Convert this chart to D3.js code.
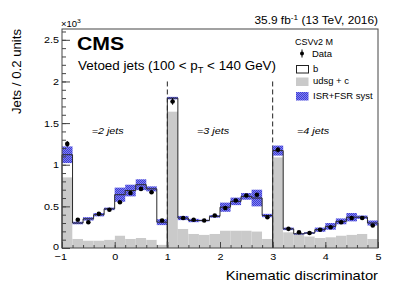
<!DOCTYPE html>
<html>
<head>
<meta charset="utf-8">
<script src="https://cdn.jsdelivr.net/npm/d3@7"></script>
<style>
  html, body { margin: 0; padding: 0; background: #fff; }
  svg { display: block; font-family: "Liberation Sans", Arial, Helvetica, sans-serif; }
</style>
</head>
<body>
<div id="chart"></div>
<script>
// values in units of 10^3 jets per 0.2 bin, 30 bins from -1 to 5
var binEdges = d3.range(0, 31).map(function (i) { return -1 + i * 0.2; });
var lightFlavour = [0.85, 0.11, 0.09, 0.09, 0.10, 0.15, 0.11, 0.12, 0.10, 0.04,
                    1.64, 0.23, 0.17, 0.16, 0.17, 0.21, 0.21, 0.21, 0.20, 0.11,
                    1.09, 0.19, 0.16, 0.14, 0.12, 0.13, 0.15, 0.16, 0.17, 0.11];
var totalMC = [1.12, 0.30, 0.35, 0.40, 0.47, 0.64, 0.69, 0.76, 0.71, 0.31,
               1.80, 0.36, 0.33, 0.33, 0.38, 0.49, 0.56, 0.62, 0.60, 0.39,
               1.17, 0.23, 0.17, 0.18, 0.22, 0.26, 0.32, 0.37, 0.37, 0.30];
var systHalf = [0.10, 0.015, 0.02, 0.02, 0.015, 0.085, 0.07, 0.065, 0.03, 0.035,
                0.015, 0.025, 0.02, 0.01, 0.015, 0.055, 0.045, 0.04, 0.10, 0.02,
                0.06, 0.015, 0.01, 0.01, 0.025, 0.04, 0.035, 0.05, 0.02, 0.03];
var dataVals = [1.25, 0.34, 0.31, 0.41, 0.46, 0.55, 0.66, 0.71, 0.67, 0.33,
                1.76, 0.36, 0.34, 0.33, 0.39, 0.48, 0.57, 0.63, 0.64, 0.37,
                1.18, 0.23, 0.19, 0.18, 0.22, 0.25, 0.31, 0.36, 0.36, 0.27];
var dataErr = [0.035, 0.015, 0.015, 0.015, 0.015, 0.017, 0.018, 0.019, 0.018, 0.015,
               0.04, 0.015, 0.015, 0.015, 0.015, 0.016, 0.017, 0.018, 0.018, 0.015,
               0.032, 0.012, 0.012, 0.012, 0.012, 0.012, 0.014, 0.014, 0.014, 0.012];
var segments = [[0, 9], [10, 19], [20, 29]];      // jet-multiplicity regions (bin index ranges)
var segLabels = ["=2 jets", "=3 jets", "=4 jets"];
var segLabelX = [0.0, 2.0, 3.9];
var dividers = [1, 3];
var xMajor = [-1, 0, 1, 2, 3, 4, 5];
var yMajor = [0, 0.5, 1, 1.5, 2, 2.5];
var legendItems = ["Data", "b", "udsg + c", "ISR+FSR syst"];

var W = 407, H = 293, L = 62, R = 378, T = 29, B = 248;
var SX = 1.1;   // the reference is a little wider than tall in its lettering

var svg = d3.select("#chart").append("svg").attr("width", W).attr("height", H);
var x = d3.scaleLinear().domain([-1, 5]).range([L, R]);
var y = d3.scaleLinear().domain([0, 2.63]).range([B, T]);

var defs = svg.append("defs");
var pat = defs.append("pattern").attr("id", "hatch").attr("patternUnits", "userSpaceOnUse")
  .attr("width", 2).attr("height", 2);
pat.append("rect").attr("width", 2).attr("height", 2).attr("fill", "#8484ee");
pat.append("rect").attr("width", 1).attr("height", 1).attr("fill", "#3c3cd6");
pat.append("rect").attr("x", 1).attr("y", 1).attr("width", 1).attr("height", 1).attr("fill", "#3c3cd6");

function txt(g, s, px, py, size, opts) {
  opts = opts || {};
  var t = g.append("text").attr("transform", "translate(" + px + "," + py + ") scale(" + (opts.sx || SX) + ",1)")
    .attr("font-size", size).attr("fill", "#000").attr("text-anchor", opts.anchor || "start");
  if (opts.bold) t.attr("font-weight", "bold");
  if (opts.italic) t.attr("font-style", "italic");
  t.text(s);
  return t;
}

var bins = d3.range(30);
var plot = svg.append("g");

// udsg + c (grey) then b (white, stacked)
plot.selectAll("rect.lf").data(bins).join("rect").attr("class", "lf")
  .attr("x", function (i) { return x(binEdges[i]); })
  .attr("width", function (i) { return x(binEdges[i + 1]) - x(binEdges[i]); })
  .attr("y", function (i) { return y(lightFlavour[i]); })
  .attr("height", function (i) { return B - y(lightFlavour[i]); })
  .attr("fill", "#cacaca");
plot.selectAll("rect.b").data(bins).join("rect").attr("class", "b")
  .attr("x", function (i) { return x(binEdges[i]); })
  .attr("width", function (i) { return x(binEdges[i + 1]) - x(binEdges[i]); })
  .attr("y", function (i) { return y(totalMC[i]); })
  .attr("height", function (i) { return y(lightFlavour[i]) - y(totalMC[i]); })
  .attr("fill", "#fff");

// dashed region dividers
plot.selectAll("line.div").data(dividers).join("line").attr("class", "div")
  .attr("x1", function (d) { return x(d); }).attr("x2", function (d) { return x(d); })
  .attr("y1", y(2.0)).attr("y2", B)
  .attr("stroke", "#222").attr("stroke-width", 1).attr("stroke-dasharray", "5,3");

// ISR+FSR band
plot.selectAll("rect.syst").data(bins).join("rect").attr("class", "syst")
  .attr("x", function (i) { return x(binEdges[i]); })
  .attr("width", function (i) { return x(binEdges[i + 1]) - x(binEdges[i]); })
  .attr("y", function (i) { return y(totalMC[i] + systHalf[i]); })
  .attr("height", function (i) { return y(totalMC[i] - systHalf[i]) - y(totalMC[i] + systHalf[i]); })
  .attr("fill", "url(#hatch)");

// step outline of the stack, one per region
segments.forEach(function (s) {
  var p = d3.path();
  p.moveTo(x(binEdges[s[0]]), y(0));
  for (var i = s[0]; i <= s[1]; i++) {
    p.lineTo(x(binEdges[i]), y(totalMC[i]));
    p.lineTo(x(binEdges[i + 1]), y(totalMC[i]));
  }
  p.lineTo(x(binEdges[s[1] + 1]), y(0));
  plot.append("path").attr("d", p.toString()).attr("fill", "none")
    .attr("stroke", "#2a2a2a").attr("stroke-width", 1);
});

// data
var cx = function (i) { return x((binEdges[i] + binEdges[i + 1]) / 2); };
plot.selectAll("line.err").data(bins).join("line").attr("class", "err")
  .attr("x1", cx).attr("x2", cx)
  .attr("y1", function (i) { return y(dataVals[i] - dataErr[i]); })
  .attr("y2", function (i) { return y(dataVals[i] + dataErr[i]); })
  .attr("stroke", "#000").attr("stroke-width", 1);
plot.selectAll("circle.pt").data(bins).join("circle").attr("class", "pt")
  .attr("cx", cx).attr("cy", function (i) { return y(dataVals[i]); })
  .attr("r", 2.3).attr("fill", "#000");

// frame and ticks
svg.append("rect").attr("x", L).attr("y", T).attr("width", R - L).attr("height", B - T)
  .attr("fill", "none").attr("stroke", "#444").attr("stroke-width", 1);

var yAx = svg.append("g").attr("transform", "translate(" + L + ",0)")
  .call(d3.axisLeft(y).tickValues(yMajor).tickSize(-8).tickPadding(3)
    .tickFormat(function (d) { return d === 0 ? "0" : String(d); }));
svg.append("g").attr("transform", "translate(" + L + ",0)")
  .call(d3.axisLeft(y).tickValues(d3.range(0, 2.61, 0.1)).tickSize(-4).tickFormat(""));
var xAx = svg.append("g").attr("transform", "translate(0," + B + ")")
  .call(d3.axisBottom(x).tickValues(xMajor).tickSize(-6).tickPadding(4)
    .tickFormat(function (d) { return d < 0 ? "\u2212" + Math.abs(d) : String(d); }));
svg.append("g").attr("transform", "translate(0," + B + ")")
  .call(d3.axisBottom(x).tickValues(binEdges).tickSize(-3).tickFormat(""));
svg.selectAll(".domain").remove();
svg.selectAll(".tick line").attr("stroke", "#444");
svg.selectAll(".tick text").attr("font-size", 9.8).attr("fill", "#000")
  .attr("font-family", "'Liberation Sans', Arial, sans-serif");
yAx.selectAll(".tick text").attr("transform", "scale(" + SX + ",1)")
  .attr("x", -3 / SX);
yAx.selectAll(".tick").filter(function (d) { return d === 0; }).select("text").attr("dy", "0.2em");
xAx.selectAll(".tick text").attr("transform", "scale(" + SX + ",1)").attr("dy", "0.71em").attr("y", 5);
xAx.selectAll(".tick").filter(function (d) { return d < 0; }).select("text").attr("x", -1.5);

// texts
var tg = svg.append("g");
var t10 = txt(tg, "\u00d710", 61, 27, 8.6);
t10.append("tspan").attr("dy", -4).attr("font-size", 6.2).text("3");

var lumi = txt(tg, "35.9 fb", R, 24, 10.8, { anchor: "end" });
lumi.append("tspan").attr("dy", -4).attr("font-size", 7.5).text("-1");
lumi.append("tspan").attr("dy", 4).text(" (13 TeV, 2016)");

txt(tg, "CMS", 77, 50, 18, { bold: true, sx: 1.18 });
var vet = txt(tg, "Vetoed jets (100 < p", 78, 70, 12.2);
vet.append("tspan").attr("dy", 3).attr("font-size", 8.5).text("T");
vet.append("tspan").attr("dy", -3).text(" < 140 GeV)");

segLabels.forEach(function (s, i) {
  txt(tg, s, x(segLabelX[i]) - 23, 134, 9.8, { italic: true });
});

tg.append("text").attr("transform", "translate(21," + T + ") rotate(-90)")
  .attr("text-anchor", "end").attr("font-size", 13.2).attr("fill", "#000").text("Jets / 0.2 units");
txt(tg, "Kinematic discriminator", R, 280, 13.4, { anchor: "end" });

// legend
var lg = svg.append("g");
txt(lg, "CSVv2 M", 295, 45, 8.2);
var rows = [57, 72, 84, 99];
lg.append("line").attr("x1", 302).attr("x2", 302).attr("y1", rows[0] - 7.5).attr("y2", rows[0] + 0.5)
  .attr("stroke", "#000");
lg.append("circle").attr("cx", 302).attr("cy", rows[0] - 3.5).attr("r", 2).attr("fill", "#000");
lg.append("rect").attr("x", 296.5).attr("y", 65.5).attr("width", 12).attr("height", 7.5)
  .attr("fill", "#fff").attr("stroke", "#222");
lg.append("rect").attr("x", 296).attr("y", 77.5).attr("width", 12.5).attr("height", 8.5).attr("fill", "#cacaca");
lg.append("rect").attr("x", 296).attr("y", 92).attr("width", 12.5).attr("height", 8.5).attr("fill", "url(#hatch)");
legendItems.forEach(function (s, i) {
  txt(lg, s, i === 0 ? 312 : 313, rows[i], 8.6);
});
</script>
</body>
</html>
